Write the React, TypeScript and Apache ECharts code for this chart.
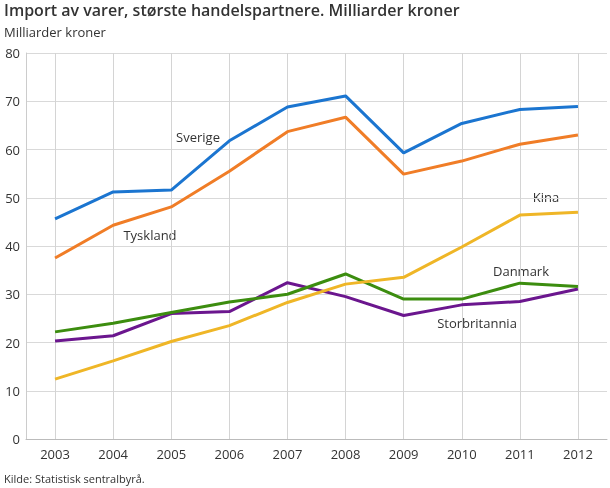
import React, { useEffect, useRef } from "react";
import * as echarts from "echarts";

const years = ["2003", "2004", "2005", "2006", "2007", "2008", "2009", "2010", "2011", "2012"];
const sverige = [45.6, 51.2, 51.6, 61.8, 68.8, 71.1, 59.3, 65.4, 68.3, 68.9];
const tyskland = [37.5, 44.3, 48.1, 55.5, 63.7, 66.7, 54.9, 57.6, 61.1, 63.0];
const kina = [12.4, 16.2, 20.2, 23.5, 28.3, 32.1, 33.5, 39.8, 46.4, 47.0];
const danmark = [22.2, 24.0, 26.2, 28.4, 30.0, 34.2, 29.0, 29.0, 32.3, 31.6];
const storbritannia = [20.3, 21.4, 26.0, 26.4, 32.4, 29.5, 25.6, 27.8, 28.5, 31.1];

const seriesNames = ["Sverige", "Tyskland", "Kina", "Danmark", "Storbritannia"];
const seriesData = [sverige, tyskland, kina, danmark, storbritannia];
const colors = ["#1b75d0", "#f07d27", "#efb627", "#3c8d0f", "#6b168e"];

const FONT = "'Open Sans', 'Noto Sans', sans-serif";
const TXT = "#333333";

export default function App() {
  const ref = useRef<HTMLDivElement>(null);
  useEffect(() => {
    if (!ref.current) return;
    const chart = echarts.init(ref.current, null, { renderer: "svg" });
    const labelPos: [number, number][] = [
      [198, 137],
      [150, 235],
      [546, 197],
      [521, 271],
      [477, 323],
    ];
    chart.setOption({
      animation: false,
      textStyle: { fontFamily: FONT },
      grid: {
        left: 26,
        right: 3,
        top: 53,
        bottom: 49,
        containLabel: false,
        outerBoundsMode: "none",
      },
      xAxis: {
        type: "category",
        data: years,
        boundaryGap: true,
        axisLine: { show: true, lineStyle: { color: "#bbbbbb", width: 1 } },
        axisTick: { show: false },
        axisLabel: { color: TXT, fontSize: 13, margin: 8, fontFamily: FONT },
        splitLine: {
          show: true,
          alignWithLabel: true,
          lineStyle: { color: "#d4d4d4", width: 1 },
        } as any,
      },
      yAxis: {
        type: "value",
        min: 0,
        max: 80,
        interval: 10,
        axisLine: { show: true, lineStyle: { color: "#cccccc", width: 1 } },
        axisTick: { show: false },
        axisLabel: { color: TXT, fontSize: 13, margin: 6, fontFamily: FONT },
        splitLine: { show: true, lineStyle: { color: "#d9d9d9", width: 1 } },
      },
      series: seriesNames.map((name, i) => ({
        name,
        type: "line",
        data: seriesData[i],
        symbol: "none",
        lineStyle: { color: colors[i], width: 3 },
        itemStyle: { color: colors[i] },
        z: 10 - i,
      })),
      graphic: [
        {
          type: "text",
          left: 4,
          top: 2,
          style: {
            text: "Import av varer, største handelspartnere. Milliarder kroner",
            fill: TXT,
            font: `600 16px ${FONT}`,
          },
        },
        {
          type: "text",
          left: 4,
          top: 25,
          style: { text: "Milliarder kroner", fill: TXT, font: `13px ${FONT}` },
        },
        {
          type: "text",
          left: 4,
          top: 473,
          style: { text: "Kilde: Statistisk sentralbyrå.", fill: TXT, font: `11px ${FONT}` },
        },
        ...seriesNames.map((name, i) => ({
          type: "text",
          x: labelPos[i][0],
          y: labelPos[i][1],
          style: {
            text: name,
            fill: TXT,
            font: `13px ${FONT}`,
            align: "center",
            verticalAlign: "middle",
          },
        })),
      ],
    });
    return () => chart.dispose();
  }, []);
  return (
    <div
      ref={ref}
      style={{ position: "fixed", left: 0, top: 0, width: 610, height: 488 }}
    />
  );
}
